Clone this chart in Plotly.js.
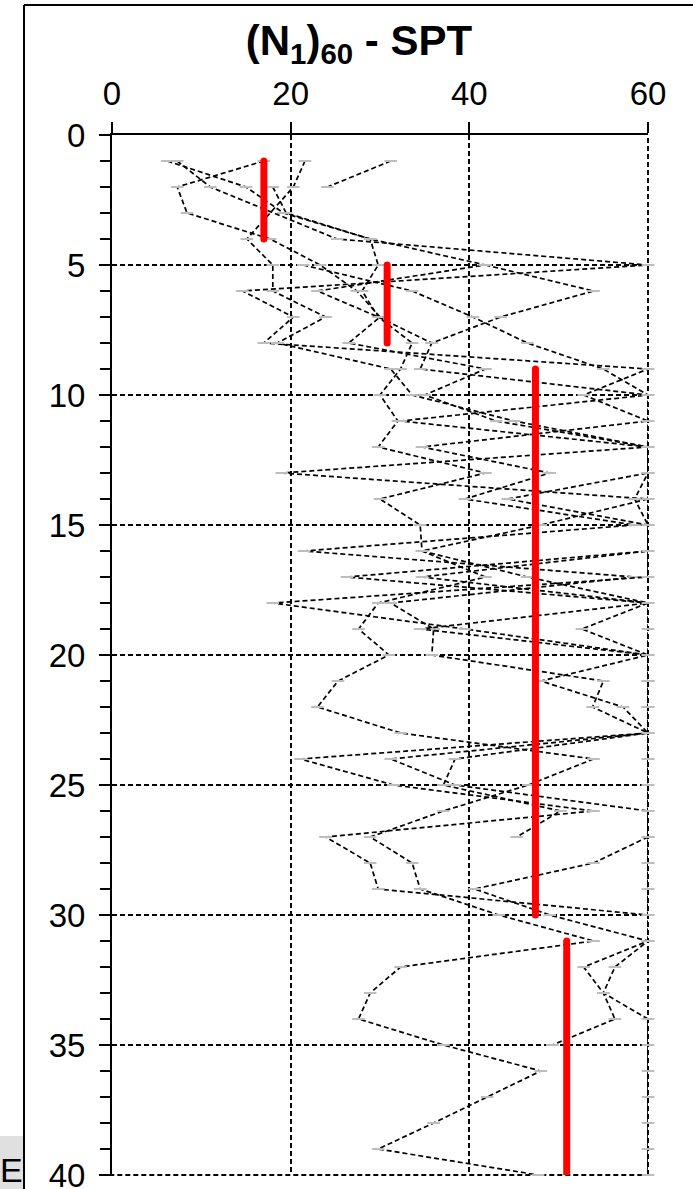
<!DOCTYPE html>
<html><head><meta charset="utf-8">
<script src="https://cdn.plot.ly/plotly-3.0.1.min.js"></script>
<style>html,body{margin:0;padding:0;background:#fff;} #chart{width:693px;height:1189px;}</style>
</head><body><div id="chart"></div>
<script>
// Axis ticks
const xTicks = [0, 20, 40, 60];
const yTicks = [0, 5, 10, 15, 20, 25, 30, 35, 40];

// Boreholes: depth (m) and (N1)60
const bh1Depth = [1,2,3,4,5,6,7,8,9,10,11,12,13,14,15,16,17,18,19,20,21,22,23,24,25,26,27];
const bh1N     = [17,7.3,8.4,17.7,23.3,27.4,30,26.5,41.8,35,43,60,19,60,48,34.7,46.5,60,52.6,60,48,57.2,60,38.4,37.1,50.2,45.3];

const bh2Depth = [1,2,3,4,5,6,7,8,9,10,11,12,13,14,15,16,17,18,19,20,21,22,23,24,25,26,27,28,29,30,31,32,33,34,35,36,37,38,39,40];
const bh2N     = [6.2,15,19.2,28.9,29.8,28,29.8,33.6,32.3,30,32,29.8,41.8,30,34.5,34.7,41.8,29.8,27.6,31,25.3,23,32.3,53.9,46.6,37.1,28.9,33.6,34.5,43.3,53.9,32.3,28.9,27.6,37.1,48,42,36,29.8,47.7];

const bh3Depth = [1,2,4,5,6,7,8,9,10,11,12,13,14,15,16,17,18,19,20,21,22,23,24,25,26,27,28,29,30,31,32,33,34,35,36,37,38,39,40];
const bh3N     = [7.3,11,25.2,60,14.6,20.3,17,60,52.8,60,34.7,49,39.5,58.5,21.5,58.5,31.2,36,35.8,55,53.8,60,21.1,31.5,53.9,23.9,28.9,29.8,60,60,52.8,55,60,60,60,60,60,60,60];

const bh4Depth = [1,2,4,5,6,7,8,9,10,11,12,13,14,15,16,17,18,19,20,21,22,23,24,25,26,27,28,29,30,31,32,33,34,35];
const bh4N     = [21.6,20.3,15.1,18,18,23.9,18.5,31.2,33.6,45,60,60,58.5,60,60,60,18,39.5,60,60,60,60,31.2,38.4,60,60,53.9,40.6,49,60,56.3,55,56.3,49.3];

const bh5Depth = [1,2];
const bh5N     = [31.2,24.1];

const bh6Depth = [5,6,7,8,9,10,11,12,13,14,15,16,17,18,19,20,21,22,23,24,25,26,27,28,29,30];
const bh6N     = [41.8,53.9,43.5,35.8,34.5,60,32.3,60,60,44.3,60,60,34.7,60,34.5,60,60,60,60,60,60,60,60,60,60,60];

const bh7Depth = [5,6,7,8,9,10,11,12,13,14,15,16,17,18,19,20,21,22,23,24,25,26,27,28,29,30,31];
const bh7N     = [21.4,33.6,40.4,46.5,55,60,60,60,60,60,60,60,26.3,60,60,60,60,60,60,60,60,60,60,60,60,60,60];

const bh8Depth = [2,3,4,5,6,7,8];
const bh8N     = [18,19.5,28.9,41.8,23,29.8,35.8];

// Representative (average) values per layer (red)
const layerN      = [17, 30.8, 47.4, 50.9];
const layerTop    = [1, 5, 9, 31];
const layerBottom = [4, 8, 30, 40];

const xMax = 60, yMax = 40;

const boreholes = [
  [bh1Depth, bh1N], [bh2Depth, bh2N], [bh3Depth, bh3N], [bh4Depth, bh4N],
  [bh5Depth, bh5N], [bh6Depth, bh6N], [bh7Depth, bh7N], [bh8Depth, bh8N]
];

const traces = boreholes.map(([d, n]) => ({
  type: 'scatter', mode: 'lines+markers', x: n, y: d,
  line: {color: '#000', width: 1.7, dash: '5px,3px'},
  marker: {symbol: 'line-ew', size: 9, color: '#bdbdbd', line: {width: 2, color: '#bdbdbd'}},
  hoverinfo: 'skip', showlegend: false, cliponaxis: false
}));

const rx = [], ry = [];
layerN.forEach((v, i) => { rx.push(v, v, null); ry.push(layerTop[i], layerBottom[i], null); });
traces.push({type: 'scatter', mode: 'lines', x: rx, y: ry,
  line: {color: '#ff0000', width: 7}, hoverinfo: 'skip', showlegend: false, cliponaxis: false});

const px2x = p => (p - 112) / 536;
const py2y = p => (1175 - p) / 1040;

const gridDash = '5px,3px';

const layout = {
  width: 693, height: 1189,
  margin: {l: 112, r: 45, t: 135, b: 14, pad: 0},
  paper_bgcolor: '#fff', plot_bgcolor: '#fff',
  showlegend: false,
  font: {family: 'Liberation Sans, Arial, sans-serif', color: '#000'},
  title: {text: '(N<sub>1</sub>)<sub>60</sub> - SPT', font: {size: 42, weight: 'bold', color: '#000'},
          x: 0.518, xref: 'container', xanchor: 'center', y: 0.966, yref: 'container', yanchor: 'middle'},
  xaxis: {side: 'top', range: [0, xMax], tickvals: xTicks, ticktext: xTicks.map(String),
          ticks: 'outside', ticklen: 11, tickwidth: 2, tickcolor: '#000',
          showline: true, linewidth: 2, linecolor: '#000',
          showgrid: true, gridcolor: '#000', gridwidth: 2, griddash: gridDash,
          zeroline: false, tickfont: {size: 33}, ticklabelstandoff: 4,
          ticklabeloverflow: 'allow', fixedrange: true},
  yaxis: {range: [yMax, 0], tickvals: yTicks, ticktext: yTicks.map(String),
          ticks: 'outside', ticklen: 11, tickwidth: 2, tickcolor: '#000',
          showline: true, linewidth: 2, linecolor: '#000',
          showgrid: true, gridcolor: '#000', gridwidth: 2, griddash: gridDash,
          zeroline: false, tickfont: {size: 33}, ticklabelstandoff: 7,
          ticklabeloverflow: 'allow', fixedrange: true,
          minor: {dtick: 1, ticks: 'outside', ticklen: 10, tickwidth: 2, tickcolor: '#000', showgrid: false}},
  shapes: [
    // dashed grid lines on the far edges (right: N=60, bottom: depth 40)
    {type: 'line', xref: 'paper', yref: 'paper', x0: 1, x1: 1, y0: 0, y1: 1,
     line: {color: '#000', width: 2, dash: gridDash}, layer: 'below'},
    {type: 'line', xref: 'paper', yref: 'paper', x0: -0.02, x1: 1, y0: 0, y1: 0,
     line: {color: '#000', width: 2, dash: gridDash}, layer: 'below'},
    {type: 'rect', xref: 'paper', yref: 'paper', x0: px2x(0), x1: px2x(25), y0: py2y(1136), y1: py2y(1195),
     fillcolor: '#e0e0e0', line: {width: 0}, layer: 'below'},
    {type: 'line', xref: 'paper', yref: 'paper', x0: px2x(24), x1: px2x(24), y0: py2y(1200), y1: py2y(5),
     line: {color: '#000', width: 2}},
    {type: 'line', xref: 'paper', yref: 'paper', x0: px2x(24), x1: px2x(720), y0: py2y(5), y1: py2y(5),
     line: {color: '#000', width: 2}}
  ],
  annotations: [
    {xref: 'paper', yref: 'paper', x: px2x(25), y: py2y(1170), xanchor: 'right', yanchor: 'middle',
     text: 'E', showarrow: false, font: {size: 34, color: '#000'}}
  ]
};

Plotly.newPlot('chart', traces, layout, {staticPlot: true, displayModeBar: false}).then(() => {
  document.querySelectorAll('.scatterlayer path.js-line').forEach(p => {
    if ((p.style.stroke || '').indexOf('255, 0, 0') >= 0) p.style.strokeLinecap = 'round';
  });
});
</script>
</body></html>
